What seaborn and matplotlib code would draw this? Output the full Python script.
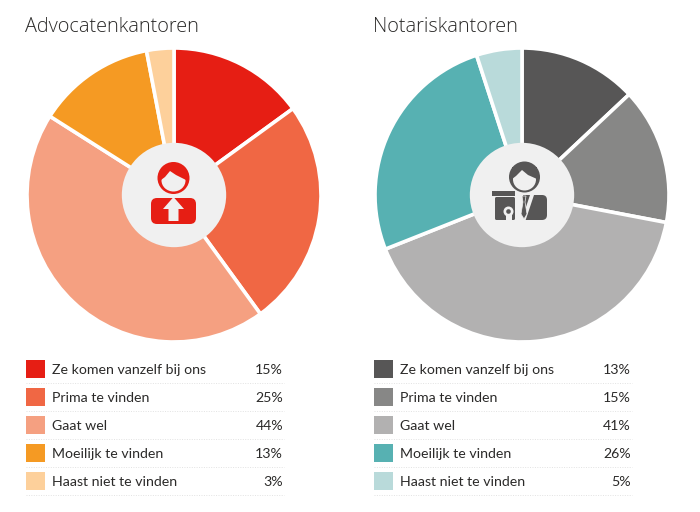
import matplotlib
matplotlib.use("Agg")
import matplotlib.pyplot as plt
import seaborn as sns
from matplotlib.patches import Circle, Ellipse, FancyBboxPatch, Polygon, Rectangle

# Data
labels = ["Ze komen vanzelf bij ons", "Prima te vinden", "Gaat wel",
          "Moeilijk te vinden", "Haast niet te vinden"]
advocaten = [15, 25, 44, 13, 3]
notaris = [13, 15, 41, 26, 5]
advocaten_colors = ["#e61e14", "#f06744", "#f5a081", "#f59a23", "#fdd09b"]
notaris_colors = ["#575656", "#878786", "#b2b1b1", "#57b1b2", "#b9dada"]

sns.set_theme(style="white")
plt.rcParams["font.family"] = ["Lato", "DejaVu Sans"]
text_color = "#2b2a29"
W, H = 700, 512

fig = plt.figure(figsize=(7, 5.12), dpi=100)

# overlay axes in pixel coordinates for the legend, titles and icons
ov = fig.add_axes([0, 0, 1, 1], zorder=2)
ov.set_xlim(0, W)
ov.set_ylim(H, 0)
ov.axis("off")


def draw_pie(values, colors, cx, cy=195, r=147):
    ax = fig.add_axes([(cx - r) / W, 1 - (cy + r) / H, 2 * r / W, 2 * r / H], zorder=1)
    ax.pie(values, colors=sns.color_palette(colors), startangle=90, counterclock=False,
           radius=1, wedgeprops={"edgecolor": "white", "linewidth": 2.6})
    ax.set_xlim(-1, 1)
    ax.set_ylim(-1, 1)
    ax.add_patch(Circle((0, 0), 0.355, facecolor="#f0f0f0", edgecolor="none", zorder=5))


def draw_legend(values, colors, x0):
    for i, (lab, val, col) in enumerate(zip(labels, values, colors)):
        y = 369 + i * 28
        ov.add_patch(Rectangle((x0, y - 9.5), 19, 18.5, facecolor=col, edgecolor="none"))
        ov.text(x0 + 26.5, y + 0.5, lab, fontsize=10.2, color=text_color, va="center", ha="left")
        ov.text(x0 + 257, y + 0.5, f"{val}%", fontsize=10.2, color=text_color, va="center", ha="right")
        ov.plot([x0, x0 + 258], [y + 14, y + 14], color="#e2e2e2", lw=0.7, ls=(0, (1, 1.5)))


draw_pie(advocaten, advocaten_colors, 174)
draw_pie(notaris, notaris_colors, 522)
draw_legend(advocaten, advocaten_colors, 26)
draw_legend(notaris, notaris_colors, 374)

ov.text(25, 27, "Advocatenkantoren", fontsize=14.3, color=text_color, va="center",
        family="Open Sans", fontweight="light")
ov.text(373, 27, "Notariskantoren", fontsize=14.3, color=text_color, va="center",
        family="Open Sans", fontweight="light")

# Icon: advocate
red = advocaten_colors[0]
ov.add_patch(Circle((173.5, 178), 16, facecolor=red, edgecolor="none", zorder=5))
ov.add_patch(Ellipse((173.5, 180.5), 24, 22, facecolor="#f0f0f0", edgecolor="none", zorder=6))
ov.add_patch(Polygon([(161, 180), (165, 177), (170, 171), (176, 175), (186, 180), (186, 168), (161, 168)],
                     facecolor=red, edgecolor="none", zorder=7))
ov.add_patch(FancyBboxPatch((151, 198), 45, 26, boxstyle="round,pad=0,rounding_size=6",
                            facecolor=red, edgecolor="none", zorder=5))
ov.add_patch(Polygon([(173.5, 197), (184, 209), (178.5, 209), (178.5, 221), (168.5, 221),
                      (168.5, 209), (163, 209)], facecolor="#f0f0f0", edgecolor="none", zorder=6))

# Icon: notary
dark = notaris_colors[0]
ov.add_patch(Circle((524.5, 177), 15.5, facecolor=dark, edgecolor="none", zorder=5))
ov.add_patch(Ellipse((524.5, 179.5), 23, 22, facecolor="#f0f0f0", edgecolor="none", zorder=6))
ov.add_patch(Polygon([(512, 179), (516, 176), (522, 170), (528, 175), (537, 179), (537, 167), (512, 167)],
                     facecolor=dark, edgecolor="none", zorder=7))
ov.add_patch(FancyBboxPatch((519, 195), 28, 25, boxstyle="round,pad=0,rounding_size=5",
                            facecolor=dark, edgecolor="none", zorder=5))
ov.add_patch(Rectangle((515, 194), 8, 27, facecolor="#f0f0f0", edgecolor="none", zorder=6))
ov.add_patch(Polygon([(522, 196), (526, 196), (525, 202), (527, 214), (524, 219), (521, 214),
                      (523, 202)], facecolor=dark, edgecolor="#f0f0f0", lw=0.5, zorder=7))
ov.add_patch(Polygon([(530, 195), (534, 195), (525, 222), (521, 222)],
                     facecolor="#f0f0f0", edgecolor="none", zorder=6))
ov.add_patch(Rectangle((492, 191), 23, 5, facecolor=dark, edgecolor="none", zorder=5))
ov.add_patch(FancyBboxPatch((495, 197), 20, 23, boxstyle="round,pad=0,rounding_size=1.5",
                            facecolor=dark, edgecolor="none", zorder=5))
ov.add_patch(Circle((508.5, 211.5), 5, facecolor="#f0f0f0", edgecolor="none", zorder=6))
ov.add_patch(Circle((508.5, 211.5), 2.3, facecolor=dark, edgecolor="none", zorder=7))
ov.add_patch(Rectangle((505.5, 215), 6, 5, facecolor="#f0f0f0", edgecolor="none", zorder=6))

fig.savefig("out.png", dpi=100, facecolor="white")
